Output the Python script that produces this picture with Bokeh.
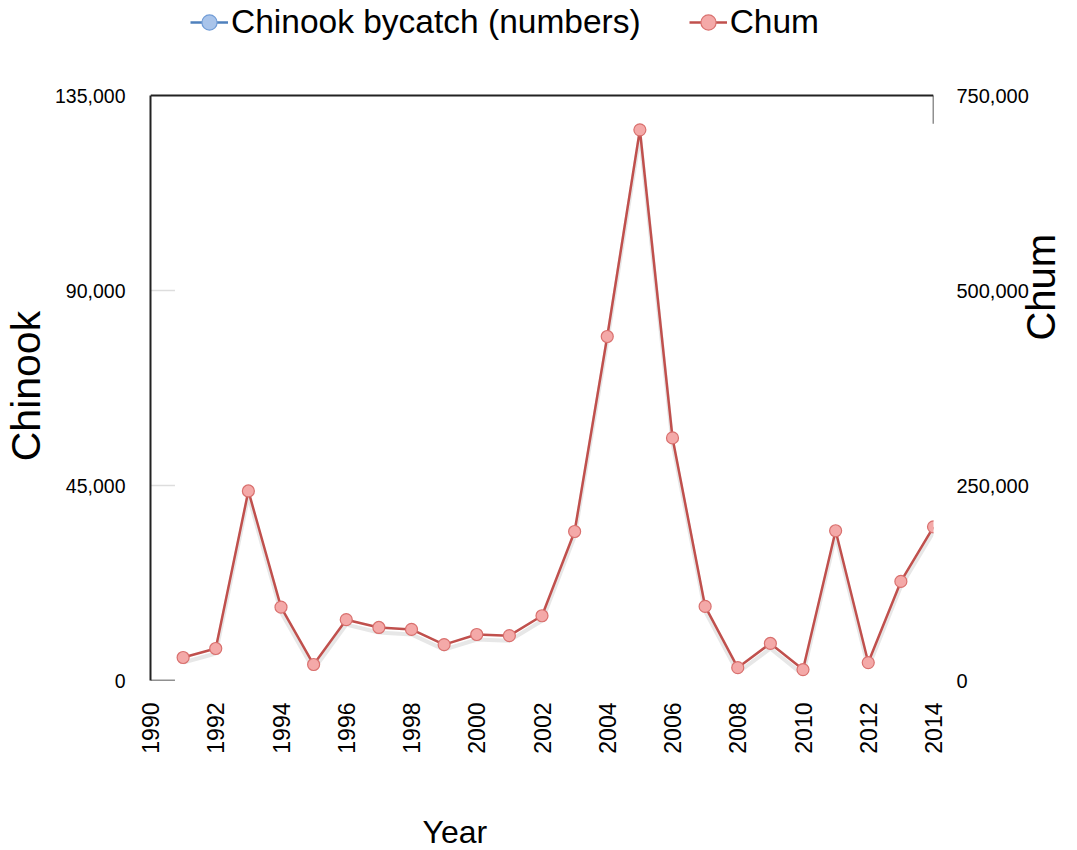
import math
from bokeh.plotting import figure
from bokeh.models import (Range1d, LinearAxis, FixedTicker, NumeralTickFormatter,
                          Span, Legend, LegendItem, Title, ColumnDataSource)
from bokeh.embed import file_html
from bokeh.resources import INLINE

nan = float("nan")
years = list(range(1991, 2015))
chum = [29500, 41000, 243000, 94000, 20500, 78000, 68000, 65500, 46000, 59000, 57500, 83000,
        191000, 441000, 706000, 311000, 95000, 16500, 47500, 14000, 192000, 23000, 127000, 197000]
# Chinook series: present in the legend but not drawn in the reference's plot area
chinook = [nan, nan, nan, nan, nan, nan, nan, nan, nan, nan, nan, nan,
           nan, nan, nan, nan, nan, nan, nan, nan, nan, nan, nan, nan]
x_ticks = list(range(1990, 2015, 2))
left_ticks = [0, 45000, 90000, 135000]
right_ticks = [0, 250000, 500000, 750000]

LEFT_MAX = 135000
RIGHT_MAX = 750000

FONT = "Liberation Sans"
RED = "#c0504d"
RED_FILL = "#f4a9a8"
BLUE = "#4f81bd"
BLUE_FILL = "#a9c4ea"
NBSP = "\u00a0"

# the frame also covers the legend strip at the top (95px over a 585px plot box)
FRAME_H = 680
PLOT_H = 585
ext = FRAME_H / PLOT_H

p = figure(title=None, frame_width=783, frame_height=FRAME_H, output_backend="svg",
           toolbar_location=None,
           x_range=Range1d(1990, 2014), y_range=Range1d(0, LEFT_MAX * ext),
           min_border_left=150, min_border_right=144, min_border_top=0, min_border_bottom=169)
p.outline_line_color = None
p.xgrid.visible = False
p.ygrid.visible = False

shadow_shift = RIGHT_MAX * 5 / PLOT_H
p.extra_y_ranges = {"chum": Range1d(0, RIGHT_MAX * ext),
                    "shadow": Range1d(shadow_shift, RIGHT_MAX * ext + shadow_shift)}

# x axis
xa = p.xaxis[0]
xa.ticker = FixedTicker(ticks=x_ticks)
xa.axis_line_color = None
xa.major_tick_line_color = None
xa.minor_tick_line_color = None
xa.major_label_orientation = math.pi / 2
xa.major_label_text_font = FONT
xa.major_label_text_font_size = "23px"
xa.major_label_text_color = "black"
xa.major_label_standoff = 16

# left axis (label padded so that it centres on the plot box, not the taller frame)
ya = p.yaxis[0]
ya.ticker = FixedTicker(ticks=left_ticks)
ya.formatter = NumeralTickFormatter(format="0,0")
ya.bounds = (0, LEFT_MAX)
ya.axis_line_color = "#222222"
ya.axis_line_width = 2
ya.major_tick_line_color = None
ya.minor_tick_line_color = None
ya.major_label_text_font = FONT
ya.major_label_text_font_size = "19.5px"
ya.major_label_text_color = "black"
ya.major_label_standoff = 19
ya.axis_label = "Chinook" + NBSP * 8
ya.axis_label_text_font = FONT
ya.axis_label_text_font_size = "41px"
ya.axis_label_text_font_style = "normal"
ya.axis_label_text_color = "black"
ya.axis_label_standoff = 3

# right axis
ra = LinearAxis(y_range_name="chum", ticker=FixedTicker(ticks=right_ticks),
                formatter=NumeralTickFormatter(format="0,0"), bounds=(0, RIGHT_MAX))
ra.axis_line_color = None
ra.major_tick_line_color = None
ra.minor_tick_line_color = None
ra.major_label_text_font = FONT
ra.major_label_text_font_size = "20px"
ra.major_label_text_color = "black"
ra.major_label_standoff = 17
ra.axis_label = "Chum" + NBSP * 8
ra.axis_label_text_font = FONT
ra.axis_label_text_font_size = "40px"
ra.axis_label_text_font_style = "normal"
ra.axis_label_text_color = "black"
ra.axis_label_text_align = "center"
ra.axis_label_standoff = 9
ra.axis_label_orientation = math.pi / 2
p.add_layout(ra, "right")

# top border
p.add_layout(Span(location=LEFT_MAX, dimension="width", line_color="#222222", line_width=2))
# small frame stubs
p.segment(x0=[1990], y0=[0], x1=[1990.75], y1=[0], line_color="#222222", line_width=1.5)
p.segment(x0=[2014], y0=[LEFT_MAX], x1=[2014], y1=[128500], line_color="#222222", line_width=1.5)
p.segment(x0=[1990, 1990], y0=[45000, 90000], x1=[1990.75, 1990.75], y1=[45000, 90000],
          line_color="#dddddd", line_width=1.5)

src = ColumnDataSource(dict(year=years, chum=chum, chinook=chinook))

# shadow
p.line("year", "chum", source=src, y_range_name="shadow", line_color="#bbbbbb",
       line_width=4, line_alpha=0.35)

chum_line = p.line("year", "chum", source=src, y_range_name="chum", line_color=RED, line_width=2.5)
chum_pts = p.scatter("year", "chum", source=src, y_range_name="chum", size=12,
                     fill_color=RED_FILL, line_color="#d9706e", line_width=1.2)

chin_line = p.line("year", "chinook", source=src, line_color=BLUE, line_width=2.5)
chin_pts = p.scatter("year", "chinook", source=src, size=10, fill_color=BLUE_FILL,
                     line_color="#6f9bd6", line_width=1.2)

legend = Legend(items=[LegendItem(label="Chinook bycatch (numbers)", renderers=[chin_line, chin_pts]),
                       LegendItem(label="Chum", renderers=[chum_line, chum_pts])],
                orientation="horizontal", location=(40, 639))
legend.label_text_font = FONT
legend.label_text_font_size = "33.5px"
legend.label_text_color = "black"
legend.glyph_width = 38
legend.glyph_height = 38
legend.label_height = 38
legend.label_standoff = 3
legend.spacing = 48
legend.padding = 0
legend.margin = 0
legend.border_line_color = None
legend.background_fill_alpha = 0
p.add_layout(legend, "center")

# x-axis title, set lower via a blank spacer title
p.add_layout(Title(text=" ", text_font=FONT, text_font_size="47px", standoff=0), "below")
p.add_layout(Title(text="Year", text_font=FONT, text_font_size="32px", text_font_style="normal",
                   text_color="black", align="left", offset=272, standoff=0), "below")

open("out.html", "w").write(file_html(p, INLINE))
